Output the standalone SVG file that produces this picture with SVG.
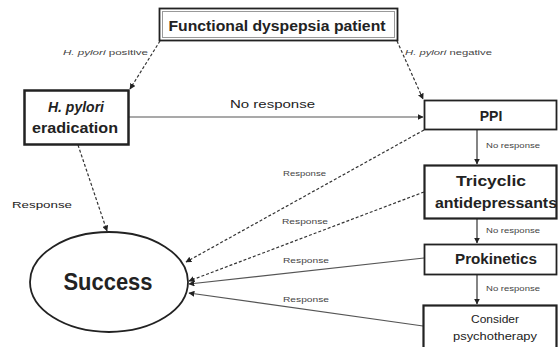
<svg xmlns="http://www.w3.org/2000/svg" width="560" height="347" viewBox="0 0 560 347">
<defs>
<marker id="ah" viewBox="0 0 10 10" refX="9" refY="5" markerWidth="6" markerHeight="6" orient="auto" markerUnits="userSpaceOnUse">
<path d="M0,0 L10,5 L0,10 z" fill="#222"/>
</marker>
</defs>
<style>
.box{fill:#fff;stroke:#222}
.inner{fill:none;stroke:#999;stroke-width:1}
.c{stroke:#333;stroke-width:1.2;fill:none;marker-end:url(#ah)}
.d{stroke-dasharray:3,2}
.g{stroke:#555}
.t{font-family:"Liberation Sans",Arial,sans-serif;fill:#222}
.b{font-weight:bold}
.s{font-size:7px;fill:#444}
</style>
<rect width="560" height="347" fill="#fff"/>
<g id="connectors">
<line class="c d" x1="160" y1="41" x2="130" y2="89"/>
<line class="c d" x1="397" y1="41" x2="423" y2="99"/>
<line class="c g" x1="129" y1="117" x2="423" y2="117"/>
<line class="c d" x1="78" y1="145" x2="107" y2="231"/>
<line class="c d" x1="424" y1="130" x2="186" y2="262"/>
<line class="c d" x1="424" y1="192" x2="189" y2="281"/>
<line class="c g" x1="424" y1="258" x2="189" y2="284"/>
<line class="c g" x1="423" y1="326" x2="189" y2="293"/>
<line class="c" x1="477" y1="130" x2="477" y2="164"/>
<line class="c" x1="477" y1="219" x2="477" y2="243"/>
<line class="c" x1="477" y1="275" x2="477" y2="304"/>
<text class="t s" x="63" y="55" textLength="85" lengthAdjust="spacingAndGlyphs"><tspan font-style="italic">H. pylori</tspan> positive</text>
<text class="t s" x="405" y="55" textLength="87" lengthAdjust="spacingAndGlyphs"><tspan font-style="italic">H. pylori</tspan> negative</text>
<text class="t" x="230" y="108" font-size="10.5" textLength="85" lengthAdjust="spacingAndGlyphs">No response</text>
<text class="t" x="12" y="208" font-size="9.5" textLength="60" lengthAdjust="spacingAndGlyphs">Response</text>
<text class="t s" x="283" y="176" textLength="43" lengthAdjust="spacingAndGlyphs">Response</text>
<text class="t s" x="282" y="224" textLength="46" lengthAdjust="spacingAndGlyphs">Response</text>
<text class="t s" x="283" y="263" textLength="46" lengthAdjust="spacingAndGlyphs">Response</text>
<text class="t s" x="283" y="302" textLength="46" lengthAdjust="spacingAndGlyphs">Response</text>
<text class="t s" x="486" y="148" textLength="54" lengthAdjust="spacingAndGlyphs">No response</text>
<text class="t s" x="486" y="233" textLength="54" lengthAdjust="spacingAndGlyphs">No response</text>
<text class="t s" x="486" y="291" textLength="54" lengthAdjust="spacingAndGlyphs">No response</text>
</g>
<g id="n-top">
<rect class="box" x="159.5" y="8.5" width="238" height="32" stroke-width="1.8"/>
<rect class="inner" x="162.5" y="11.5" width="232" height="26"/>
<text class="t b" x="277" y="31" font-size="15" text-anchor="middle" textLength="217" lengthAdjust="spacingAndGlyphs">Functional dyspepsia patient</text>
</g>
<g id="n-hp">
<rect class="box" x="24.5" y="90.5" width="104" height="54" stroke-width="2.5"/>
<text class="t b" x="76" y="112" font-size="14" text-anchor="middle" font-style="italic">H. pylori</text>
<text class="t b" x="75" y="133" font-size="14" text-anchor="middle" textLength="86" lengthAdjust="spacingAndGlyphs">eradication</text>
</g>
<g id="n-ppi">
<rect class="box" x="424.5" y="100.5" width="132" height="29" stroke-width="1.8"/>
<text class="t b" x="491" y="121" font-size="14" text-anchor="middle">PPI</text>
</g>
<g id="n-tca">
<rect class="box" x="424.5" y="165.5" width="132" height="53" stroke-width="2.2"/>
<text class="t b" x="491" y="186" font-size="14" text-anchor="middle" textLength="70" lengthAdjust="spacingAndGlyphs">Tricyclic</text>
<text class="t b" x="496" y="208" font-size="14" text-anchor="middle" textLength="122" lengthAdjust="spacingAndGlyphs">antidepressants</text>
</g>
<g id="n-pro">
<rect class="box" x="424.5" y="244.5" width="132" height="30" stroke-width="1.8"/>
<text class="t b" x="496" y="264" font-size="14" text-anchor="middle" textLength="82" lengthAdjust="spacingAndGlyphs">Prokinetics</text>
</g>
<g id="n-psy">
<rect class="box" x="423.5" y="305.5" width="133" height="45" stroke-width="2.2"/>
<text class="t" x="495" y="323" font-size="10" text-anchor="middle" textLength="48" lengthAdjust="spacingAndGlyphs">Consider</text>
<text class="t" x="495" y="340" font-size="10" text-anchor="middle" textLength="84" lengthAdjust="spacingAndGlyphs">psychotherapy</text>
</g>
<g id="n-success">
<ellipse class="box" cx="109" cy="282" rx="79" ry="50" stroke-width="1.8"/>
<text class="t b" x="108" y="290" font-size="23" text-anchor="middle" textLength="89" lengthAdjust="spacingAndGlyphs">Success</text>
</g>
</svg>
